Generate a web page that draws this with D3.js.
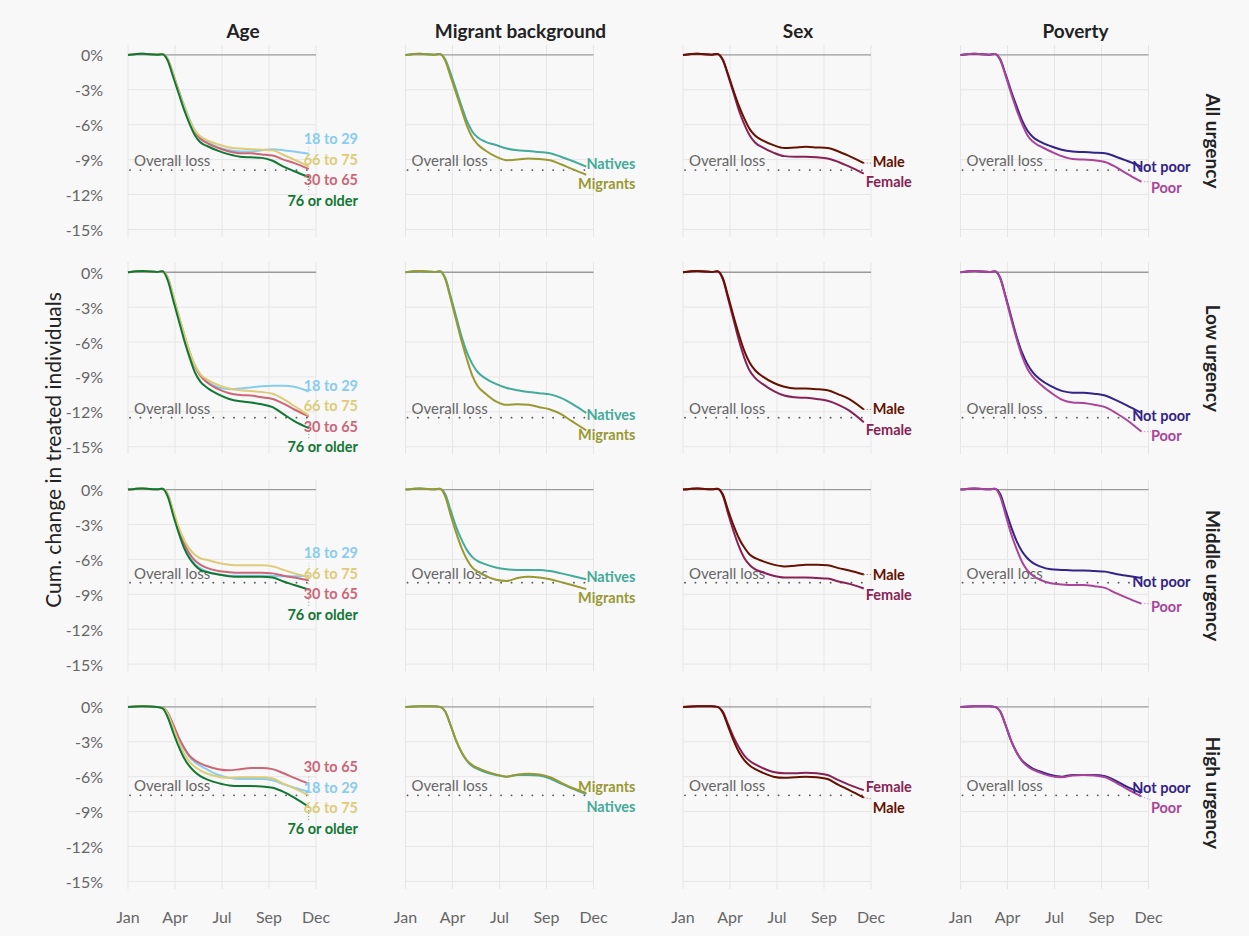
<!DOCTYPE html>
<html><head><meta charset="utf-8">
<script src="https://cdn.jsdelivr.net/npm/d3@7"></script>
<style>html,body{margin:0;padding:0;background:#f8f8f8;} text{font-family:Lato, "Noto Sans", sans-serif;}</style>
</head><body><svg id="c" width="1249" height="936"></svg>
<script>
// ---------- data ----------
const weeks = [0,4,8,9.5,11,12.5,14,15.5,17,18.5,20,22,25,28,31,34,37,40,43,46,50];
const tickWeeks = [0,13,26,39,52];
const tickLabels = ["Jan","Apr","Jul","Sep","Dec"];
const yTicks = [0,-3,-6,-9,-12,-15];
const columns = ["Age","Migrant background","Sex","Poverty"];
const rowsLab = ["All urgency","Low urgency","Middle urgency","High urgency"];
const overallLoss = [-9.9,-12.5,-8.0,-7.6];

const ageGroups = ["18 to 29","30 to 65","66 to 75","76 or older"];
const ageColors = ["#88CCEE","#CC6677","#DDCC77","#117733"];
const migGroups = ["Natives","Migrants"];
const migColors = ["#44AA99","#999933"];
const sexGroups = ["Female","Male"];
const sexColors = ["#882255","#661100"];
const povGroups = ["Not poor","Poor"];
const povColors = ["#332288","#AA4499"];

// All urgency
const ageAll = [
 [0,0.1,0.02,0.08,-0.35,-1.6,-3.0,-4.3,-5.5,-6.5,-7.1,-7.5,-7.95,-8.2,-8.3,-8.3,-8.2,-8.1,-8.2,-8.3,-8.5],
 [0,0.1,0.02,0.08,-0.4,-1.7,-3.1,-4.5,-5.7,-6.6,-7.2,-7.6,-8.0,-8.3,-8.45,-8.45,-8.55,-8.65,-9.0,-9.3,-9.8],
 [0,0.1,0.02,0.08,-0.4,-1.7,-3.1,-4.4,-5.6,-6.5,-7.0,-7.35,-7.7,-7.95,-8.05,-8.1,-8.15,-8.2,-8.6,-9.0,-9.6],
 [0,0.1,0.02,0.05,-0.5,-1.9,-3.3,-4.7,-5.9,-6.9,-7.5,-7.85,-8.25,-8.55,-8.75,-8.8,-8.85,-9.1,-9.6,-10.0,-10.5]];
const migAll = [
 [0,0.1,0.02,0.08,-0.4,-1.6,-3.0,-4.4,-5.7,-6.6,-7.1,-7.45,-7.75,-8.05,-8.2,-8.25,-8.35,-8.45,-8.75,-9.1,-9.6],
 [0,0.1,0.02,0.08,-0.5,-1.9,-3.3,-4.7,-6.1,-7.1,-7.7,-8.2,-8.75,-9.05,-9.0,-8.9,-8.95,-9.05,-9.4,-9.8,-10.3]];
const sexAll = [
 [0,0.1,0.02,0.08,-0.45,-1.8,-3.3,-4.8,-6.0,-6.95,-7.55,-7.95,-8.4,-8.7,-8.75,-8.75,-8.8,-8.9,-9.2,-9.6,-10.2],
 [0,0.1,0.02,0.08,-0.4,-1.7,-3.1,-4.4,-5.5,-6.4,-6.95,-7.35,-7.75,-8.0,-7.95,-7.9,-7.95,-8.0,-8.3,-8.7,-9.3]];
const povAll = [
 [0,0.1,0.02,0.08,-0.4,-1.7,-3.1,-4.4,-5.6,-6.5,-7.05,-7.45,-7.85,-8.15,-8.3,-8.35,-8.4,-8.45,-8.75,-9.1,-9.6],
 [0,0.1,0.02,0.08,-0.45,-1.8,-3.3,-4.7,-5.9,-6.9,-7.45,-7.85,-8.3,-8.7,-8.95,-9.0,-9.05,-9.2,-9.65,-10.2,-10.9]];

// Low urgency
const ageLow = [
 [0,0.1,0.02,0.08,-0.45,-2.0,-3.7,-5.3,-6.8,-8.0,-8.8,-9.4,-9.9,-10.05,-10.0,-9.9,-9.8,-9.75,-9.75,-9.85,-10.25],
 [0,0.1,0.02,0.08,-0.5,-2.1,-3.8,-5.4,-6.9,-8.1,-8.9,-9.5,-10.05,-10.4,-10.55,-10.6,-10.75,-10.9,-11.3,-11.8,-12.4],
 [0,0.1,0.02,0.08,-0.5,-2.0,-3.7,-5.3,-6.8,-8.0,-8.75,-9.25,-9.7,-10.0,-10.15,-10.2,-10.3,-10.45,-10.9,-11.5,-12.3],
 [0,0.1,0.02,0.08,-0.7,-2.4,-4.1,-5.8,-7.3,-8.6,-9.4,-9.95,-10.5,-10.9,-11.1,-11.2,-11.35,-11.6,-12.2,-12.8,-13.4]];
const migLow = [
 [0,0.1,0.02,0.08,-0.5,-2.1,-3.8,-5.5,-6.9,-7.9,-8.6,-9.1,-9.6,-9.95,-10.15,-10.3,-10.4,-10.5,-10.8,-11.3,-12.1],
 [0,0.1,0.02,0.08,-0.6,-2.3,-4.1,-5.9,-7.5,-8.9,-9.8,-10.4,-11.1,-11.4,-11.35,-11.4,-11.6,-11.8,-12.2,-12.8,-13.6]];
const sexLow = [
 [0,0.1,0.02,0.08,-0.6,-2.3,-4.1,-5.9,-7.4,-8.5,-9.1,-9.6,-10.2,-10.6,-10.75,-10.8,-10.9,-11.05,-11.4,-11.9,-12.9],
 [0,0.1,0.02,0.08,-0.5,-2.1,-3.8,-5.4,-6.8,-7.8,-8.45,-8.95,-9.5,-9.85,-10.0,-10.0,-10.05,-10.15,-10.5,-10.9,-11.8]];
const povLow = [
 [0,0.1,0.02,0.08,-0.5,-2.1,-3.8,-5.5,-6.9,-7.9,-8.6,-9.2,-9.8,-10.2,-10.35,-10.35,-10.45,-10.6,-11.0,-11.45,-12.1],
 [0,0.1,0.02,0.08,-0.55,-2.2,-4.0,-5.7,-7.2,-8.3,-9.0,-9.6,-10.35,-10.95,-11.2,-11.25,-11.4,-11.6,-12.1,-12.7,-13.7]];

// Middle urgency
const ageMid = [
 [0,0.1,0.02,0.08,-0.4,-1.9,-3.4,-4.7,-5.7,-6.4,-6.75,-7.05,-7.3,-7.4,-7.4,-7.4,-7.4,-7.42,-7.45,-7.45,-7.4],
 [0,0.1,0.02,0.08,-0.4,-1.9,-3.4,-4.6,-5.5,-6.1,-6.45,-6.75,-7.0,-7.1,-7.15,-7.15,-7.15,-7.2,-7.4,-7.55,-7.8],
 [0,0.1,0.02,0.08,-0.4,-1.8,-3.2,-4.3,-5.1,-5.6,-5.9,-6.05,-6.3,-6.45,-6.5,-6.5,-6.5,-6.6,-6.9,-7.2,-7.5],
 [0,0.1,0.02,0.08,-0.6,-2.2,-3.7,-5.0,-5.9,-6.5,-6.9,-7.1,-7.3,-7.45,-7.5,-7.5,-7.5,-7.55,-7.9,-8.2,-8.6]];
const migMid = [
 [0,0.1,0.02,0.08,-0.4,-1.8,-3.2,-4.3,-5.2,-5.8,-6.15,-6.4,-6.7,-6.85,-6.9,-6.9,-6.9,-7.0,-7.2,-7.4,-7.7],
 [0,0.1,0.02,0.08,-0.6,-2.2,-3.7,-5.0,-6.0,-6.7,-7.05,-7.4,-7.75,-7.85,-7.6,-7.5,-7.55,-7.7,-7.95,-8.2,-8.55]];
const sexMid = [
 [0,0.1,0.02,0.08,-0.5,-2.1,-3.6,-4.9,-5.9,-6.5,-6.85,-7.1,-7.4,-7.55,-7.55,-7.55,-7.6,-7.65,-7.9,-8.1,-8.5],
 [0,0.1,0.02,0.08,-0.4,-1.8,-3.1,-4.2,-5.0,-5.6,-5.9,-6.15,-6.45,-6.6,-6.55,-6.45,-6.45,-6.5,-6.75,-6.95,-7.3]];
const povMid = [
 [0,0.1,0.02,0.08,-0.4,-1.8,-3.2,-4.4,-5.3,-5.9,-6.3,-6.6,-6.85,-6.9,-6.95,-6.95,-7.0,-7.05,-7.25,-7.4,-7.6],
 [0,0.1,0.02,0.08,-0.6,-2.2,-3.8,-5.1,-6.2,-6.95,-7.4,-7.75,-8.05,-8.15,-8.2,-8.2,-8.3,-8.45,-8.9,-9.3,-9.8]];

// High urgency
const ageHigh = [
 [0,0.05,0.0,-0.05,-0.5,-1.6,-2.7,-3.6,-4.3,-4.75,-5.05,-5.4,-5.85,-6.1,-6.2,-6.2,-6.2,-6.3,-6.65,-6.95,-7.3],
 [0,0.05,0.0,-0.05,-0.5,-1.5,-2.6,-3.5,-4.2,-4.6,-4.85,-5.1,-5.35,-5.45,-5.35,-5.25,-5.25,-5.35,-5.7,-6.1,-6.6],
 [0,0.05,0.0,-0.05,-0.6,-1.8,-3.0,-4.0,-4.7,-5.15,-5.45,-5.75,-6.0,-6.1,-6.05,-6.05,-6.05,-6.15,-6.6,-7.0,-7.6],
 [0,0.05,0.0,-0.1,-0.9,-2.2,-3.4,-4.4,-5.1,-5.6,-5.95,-6.25,-6.55,-6.75,-6.8,-6.8,-6.85,-6.95,-7.3,-7.8,-8.6]];
const migHigh = [
 [0,0.05,0.05,0.0,-0.4,-1.6,-2.9,-3.9,-4.65,-5.1,-5.35,-5.6,-5.85,-6.0,-5.85,-5.85,-5.9,-6.15,-6.6,-7.0,-7.5],
 [0,0.05,0.05,0.0,-0.4,-1.6,-2.9,-3.9,-4.6,-5.0,-5.25,-5.5,-5.8,-6.0,-5.8,-5.75,-5.8,-6.05,-6.5,-6.95,-7.4]];
const sexHigh = [
 [0,0.05,0.05,0.0,-0.4,-1.5,-2.6,-3.5,-4.2,-4.65,-4.95,-5.25,-5.6,-5.7,-5.7,-5.65,-5.7,-5.85,-6.3,-6.7,-7.15],
 [0,0.05,0.05,0.0,-0.5,-1.7,-2.9,-3.9,-4.6,-5.05,-5.35,-5.65,-6.0,-6.1,-6.05,-6.0,-6.05,-6.2,-6.7,-7.15,-7.8]];
const povHigh = [
 [0,0.05,0.05,0.0,-0.4,-1.6,-2.9,-3.9,-4.6,-5.0,-5.3,-5.55,-5.85,-6.0,-5.85,-5.85,-5.85,-5.95,-6.35,-6.85,-7.4],
 [0,0.05,0.05,0.0,-0.4,-1.6,-2.9,-3.9,-4.65,-5.1,-5.4,-5.65,-5.95,-6.05,-5.9,-5.85,-5.9,-6.05,-6.5,-7.05,-7.7]];

const groupsByCol = [ageGroups, migGroups, sexGroups, povGroups];
const colorsByCol = [ageColors, migColors, sexColors, povColors];
const panelData = [
  [ageAll, migAll, sexAll, povAll],
  [ageLow, migLow, sexLow, povLow],
  [ageMid, migMid, sexMid, povMid],
  [ageHigh, migHigh, sexHigh, povHigh]];

// ---------- layout ----------
const svg = d3.select("#c");
svg.append("rect").attr("width",1249).attr("height",936).attr("fill","#f8f8f8");
const colLeft = [128, 405.5, 683, 960.5];
const rowTop = [45, 262.3, 479.7, 697];
const pw = 188, ph = 192, stripW = 230;
const x0 = d3.scaleLinear().domain([0,52]).range([0,pw]);
const y0 = d3.scaleLinear().domain([0.85,-15.65]).range([0,ph]);

const line = d3.line().x((d,i)=>x0(weeks[i])).y(d=>y0(d)).curve(d3.curveMonotoneX);

function spread(items, gap){
  items.sort((a,b)=>a.y-b.y);
  for(let it=0; it<200; it++){
    let moved=false;
    for(let i=1;i<items.length;i++){
      const d = items[i].y-items[i-1].y;
      if(d<gap-0.01){const s=(gap-d)/2; items[i-1].y-=s; items[i].y+=s; moved=true;}
    }
    if(!moved) break;
  }
}

for(let r=0;r<4;r++){
  for(let c=0;c<4;c++){
    const g = svg.append("g").attr("transform",`translate(${colLeft[c]},${rowTop[r]})`);
    g.selectAll(".vg").data(tickWeeks).join("line")
      .attr("x1",d=>x0(d)).attr("x2",d=>x0(d)).attr("y1",0).attr("y2",ph)
      .attr("stroke","#e6e6e6").attr("stroke-width",1);
    g.selectAll(".hg").data(yTicks.filter(d=>d!==0)).join("line")
      .attr("x1",0).attr("x2",pw).attr("y1",d=>y0(d)).attr("y2",d=>y0(d))
      .attr("stroke","#e6e6e6").attr("stroke-width",1);
    g.append("line").attr("x1",0).attr("x2",pw).attr("y1",y0(0)).attr("y2",y0(0))
      .attr("stroke","#9a9a9a").attr("stroke-width",1.4);
    g.append("line").attr("x1",x0(weeks[0])+2).attr("x2",x0(weeks[weeks.length-1]))
      .attr("y1",y0(overallLoss[r])).attr("y2",y0(overallLoss[r]))
      .attr("stroke","#555").attr("stroke-width",1.8).attr("stroke-linecap","round")
      .attr("stroke-dasharray","0.1 10.3");
    g.append("text").attr("x",6).attr("y",y0(overallLoss[r])-4)
      .attr("fill","#666").attr("font-size",15).text("Overall loss");
    const series = panelData[r][c];
    const groups = groupsByCol[c], colors = colorsByCol[c];
    series.forEach((vals,i)=>{
      g.append("path").datum(vals).attr("d",line).attr("fill","none")
        .attr("stroke",colors[i]).attr("stroke-width",2).attr("stroke-linejoin","round");
    });
    const xe = x0(weeks[weeks.length-1]);
    const items = series.map((vals,i)=>({name:groups[i],color:colors[i],ye:y0(vals[vals.length-1]),y:y0(vals[vals.length-1])+3}));
    spread(items, 20.5);
    items.forEach(it=>{
      const t = g.append("text").attr("font-size",14.5).attr("font-weight","bold")
        .attr("fill",it.color).attr("text-anchor","middle").attr("dominant-baseline","central").text(it.name);
      const w = t.node().getComputedTextLength();
      const cx = Math.min(xe+25, stripW - w/2);
      t.attr("x",cx).attr("y",it.y);
      const bx = Math.max(cx-w/2, Math.min(xe, cx+w/2));
      const by = Math.max(it.y-8, Math.min(it.ye, it.y+8));
      const dist = Math.hypot(bx-xe, by-it.ye);
      if(dist>5){
        g.insert("line","text").attr("x1",xe).attr("y1",it.ye).attr("x2",bx).attr("y2",by)
          .attr("stroke",it.color).attr("stroke-width",0.8).attr("stroke-dasharray","1 2").attr("opacity",0.8);
      }
    });
    if(c===0){
      g.selectAll(".yl").data(yTicks).join("text")
        .attr("x",-25).attr("y",d=>y0(d)).attr("dominant-baseline","central")
        .attr("text-anchor","end").attr("fill","#666").attr("font-size",16)
        .text(d=>d+"%");
    }
    if(r===3){
      g.selectAll(".xl").data(tickWeeks).join("text")
        .attr("x",d=>x0(d)).attr("y",ph+27).attr("dominant-baseline","central")
        .attr("text-anchor","middle").attr("fill","#666").attr("font-size",16)
        .text((d,i)=>tickLabels[i]);
    }
    if(r===0){
      g.append("text").attr("x",stripW/2).attr("y",-7).attr("text-anchor","middle")
        .attr("font-size",19).attr("font-weight","bold").attr("fill","#222").text(columns[c]);
    }
    if(c===3){
      g.append("text").attr("transform",`translate(${1213-colLeft[3]},${ph/2}) rotate(90)`)
        .attr("text-anchor","middle").attr("dominant-baseline","central")
        .attr("font-size",19).attr("font-weight","bold").attr("fill","#222").text(rowsLab[r]);
    }
  }
}
svg.append("text").attr("transform",`translate(52,450) rotate(-90)`)
  .attr("text-anchor","middle").attr("dominant-baseline","central")
  .attr("font-size",21).attr("fill","#222").text("Cum. change in treated individuals");
</script></body></html>
